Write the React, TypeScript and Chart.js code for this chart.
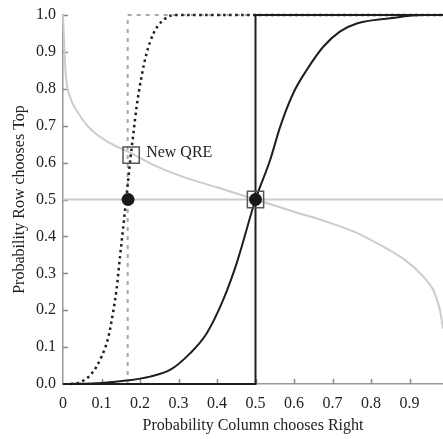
import React, { useEffect, useRef } from "react";
import { Chart, registerables } from "chart.js";

Chart.register(...registerables);

// Axis ticks
const xTickValues = [0, 0.1, 0.2, 0.3, 0.4, 0.5, 0.6, 0.7, 0.8, 0.9];
const yTickValues = [0, 0.1, 0.2, 0.3, 0.4, 0.5, 0.6, 0.7, 0.8, 0.9, 1.0];
const xMax = 0.987;

// Row's response curve (light gray)
const rowCurveX = [0, 0.004, 0.007, 0.018, 0.04, 0.066, 0.109, 0.178, 0.239, 0.31, 0.4, 0.5, 0.6, 0.69, 0.76, 0.832, 0.89, 0.936, 0.96, 0.971, 0.98, 0.987];
const rowCurveY = [1.0, 0.9, 0.84, 0.779, 0.734, 0.697, 0.661, 0.625, 0.592, 0.562, 0.533, 0.5, 0.467, 0.438, 0.411, 0.372, 0.335, 0.291, 0.258, 0.23, 0.195, 0.15];

// Horizontal line at 0.5 (light gray)
const halfLineX = [0, xMax];
const halfLineY = [0.5, 0.5];

// New best response step (gray dashed)
const newStepX = [0.168, 0.168, xMax];
const newStepY = [0, 1, 1];

// New QRE response curve (black dotted)
const newCurveX = [0.02, 0.04, 0.075, 0.1, 0.118, 0.131, 0.139, 0.148, 0.156, 0.163, 0.169, 0.175, 0.183, 0.191, 0.204, 0.217, 0.235, 0.256, 0.291, xMax];
const newCurveY = [0, 0.003, 0.029, 0.074, 0.128, 0.2, 0.255, 0.345, 0.42, 0.49, 0.55, 0.61, 0.68, 0.75, 0.833, 0.896, 0.95, 0.982, 1.0, 1.0];

// Original QRE response curve (black solid)
const oldCurveX = [0, 0.1, 0.17, 0.226, 0.278, 0.33, 0.373, 0.416, 0.451, 0.5, 0.538, 0.564, 0.598, 0.633, 0.676, 0.719, 0.763, 0.849, 0.935, xMax];
const oldCurveY = [0, 0.003, 0.01, 0.02, 0.038, 0.083, 0.137, 0.228, 0.327, 0.5, 0.607, 0.697, 0.788, 0.851, 0.914, 0.955, 0.977, 0.991, 1.0, 1.0];

// Original best response step (black solid)
const oldStepX = [0, 0.5, 0.5, xMax];
const oldStepY = [0, 0, 1, 1];

// Equilibrium points
const dotX = [0.169, 0.5];
const dotY = [0.5, 0.5];
const boxX = [0.177, 0.5];
const boxY = [0.62, 0.5];
const annotationLabel = "New QRE";

const FONT = "'Liberation Serif', 'Times New Roman', serif";

const pts = (xs: number[], ys: number[]) => xs.map((x, i) => ({ x, y: ys[i] }));

export default function App() {
  const canvasRef = useRef<HTMLCanvasElement | null>(null);

  useEffect(() => {
    const canvas = canvasRef.current;
    if (!canvas) return;

    const decorations = {
      id: "decorations",
      beforeDatasetsDraw(chart: any) {
        const { ctx, scales } = chart;
        const x = scales.x;
        const y = scales.y;
        ctx.save();
        ctx.strokeStyle = "#8a8a8a";
        ctx.lineWidth = 1.5;
        xTickValues.forEach((v) => {
          if (v === 0) return;
          const px = Math.round(x.getPixelForValue(v)) + 0.5;
          ctx.beginPath();
          ctx.moveTo(px, y.bottom);
          ctx.lineTo(px, y.bottom - 5);
          ctx.stroke();
        });
        yTickValues.forEach((v) => {
          if (v === 0) return;
          const py = Math.round(y.getPixelForValue(v)) + 0.5;
          ctx.beginPath();
          ctx.moveTo(x.left, py);
          ctx.lineTo(x.left + 5, py);
          ctx.stroke();
        });
        ctx.restore();
      },
      afterDraw(chart: any) {
        const { ctx, scales } = chart;
        const x = scales.x;
        const y = scales.y;
        ctx.save();
        ctx.fillStyle = "#222";
        ctx.font = `16px ${FONT}`;
        ctx.textAlign = "left";
        ctx.textBaseline = "middle";
        ctx.fillText(annotationLabel, x.getPixelForValue(boxX[0]) + 15, y.getPixelForValue(boxY[0]) - 2);
        ctx.restore();
      },
    };

    const lineDs = (label: string, xs: number[], ys: number[], color: string, width: number, dash: number[] | undefined, order: number, smooth: boolean) => ({
      label,
      data: pts(xs, ys),
      showLine: true,
      borderColor: color,
      borderWidth: width,
      borderDash: dash || [],
      pointRadius: 0,
      fill: false,
      clip: false as any,
      order,
      cubicInterpolationMode: smooth ? ("monotone" as const) : ("default" as const),
      tension: 0,
    });

    const chart = new Chart(canvas, {
      type: "scatter",
      data: {
        datasets: [
          {
            label: "boxes",
            data: pts(boxX, boxY),
            pointStyle: "rect",
            pointRadius: 11.5,
            pointBorderColor: "#555",
            pointBackgroundColor: "rgba(0,0,0,0)",
            pointBorderWidth: 1.5,
            showLine: false,
            clip: false as any,
            order: 0,
          } as any,
          {
            label: "dots",
            data: pts(dotX, dotY),
            pointStyle: "circle",
            pointRadius: 6.5,
            pointBorderWidth: 0,
            pointBackgroundColor: "#1a1a1a",
            pointBorderColor: "#1a1a1a",
            showLine: false,
            clip: false as any,
            order: 1,
          } as any,
          lineDs("oldStep", oldStepX, oldStepY, "#1e1e1e", 2, undefined, 2, false),
          lineDs("oldCurve", oldCurveX, oldCurveY, "#1e1e1e", 2, undefined, 3, true),
          lineDs("newCurve", newCurveX, newCurveY, "#1e1e1e", 2.5, [2.5, 3.5], 4, true),
          lineDs("newStep", newStepX, newStepY, "#a8a8a8", 2, [4, 5], 5, false),
          lineDs("half", halfLineX, halfLineY, "#cccccc", 2, undefined, 6, false),
          lineDs("rowCurve", rowCurveX, rowCurveY, "#cccccc", 2, undefined, 7, true),
        ],
      },
      options: {
        animation: false,
        responsive: false,
        maintainAspectRatio: false,
        events: [],
        layout: { autoPadding: false, padding: { left: 6, right: 0, top: 15, bottom: 0 } },
        plugins: {
          legend: { display: false },
          tooltip: { enabled: false },
          title: { display: false },
        },
        scales: {
          x: {
            type: "linear",
            min: 0,
            max: xMax,
            afterFit: (s: any) => {
              s.height = 55;
              s.paddingLeft = 0;
              s.paddingRight = 0;
            },
            afterBuildTicks: (s: any) => {
              s.ticks = xTickValues.map((v) => ({ value: v }));
            },
            grid: { display: false, drawTicks: false },
            border: { display: true, color: "#999", width: 1.5 },
            ticks: {
              padding: 10,
              color: "#222",
              font: { family: FONT, size: 16 },
              maxRotation: 0,
              autoSkip: false,
              callback: (v: any) => (Number(v) === 0 ? "0" : Number(v).toFixed(1)),
            },
            title: {
              display: true,
              text: "Probability Column chooses Right",
              color: "#222",
              font: { family: FONT, size: 16 },
            },
          },
          y: {
            type: "linear",
            min: 0,
            max: 1,
            afterFit: (s: any) => {
              s.width = 57;
              s.paddingTop = 0;
              s.paddingBottom = 0;
            },
            afterBuildTicks: (s: any) => {
              s.ticks = yTickValues.map((v) => ({ value: v }));
            },
            grid: { display: false, drawTicks: false },
            border: { display: true, color: "#999", width: 1.5 },
            ticks: {
              padding: 7,
              color: "#222",
              font: { family: FONT, size: 16 },
              autoSkip: false,
              callback: (v: any) => Number(v).toFixed(1),
            },
            title: {
              display: true,
              text: "Probability Row chooses Top",
              color: "#222",
              font: { family: FONT, size: 16 },
            },
          },
        },
      },
      plugins: [decorations],
    });

    return () => chart.destroy();
  }, []);

  return (
    <div style={{ position: "absolute", left: 0, top: 0, width: 443, height: 439, background: "#fff" }}>
      <canvas ref={canvasRef} width={443} height={439} style={{ display: "block", width: 443, height: 439 }} />
    </div>
  );
}
